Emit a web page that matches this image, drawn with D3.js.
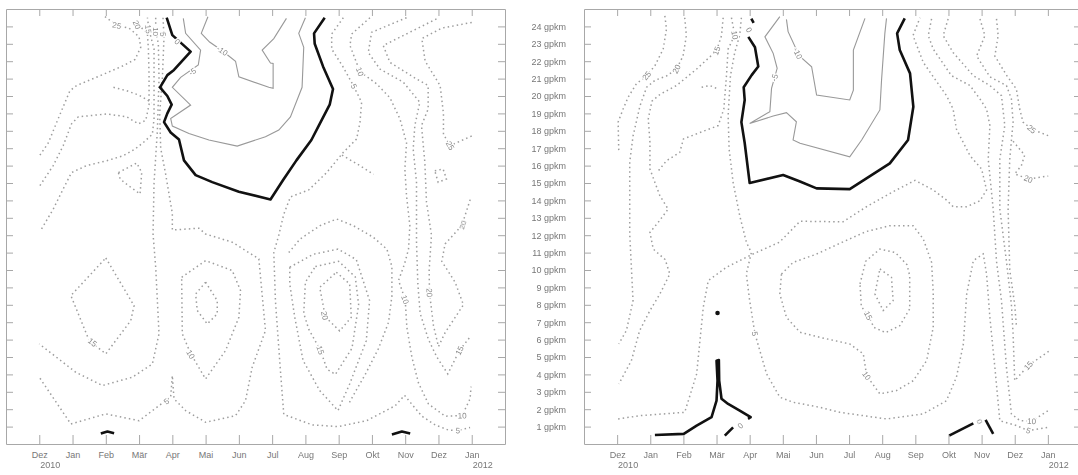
<!DOCTYPE html>
<html>
<head>
<meta charset="utf-8">
<script src="https://cdnjs.cloudflare.com/ajax/libs/d3/7.8.5/d3.min.js"></script>
<style>
  body { margin: 0; background: #fff; }
  svg { display: block; font-family: "Liberation Sans", Arial, sans-serif; }
  .labels { opacity: 0.99; }
</style>
</head>
<body>
<div id="chart"></div>
<script>
// month index: 0 = Dez 2010 ... 13 = Jan 2012, height in gpkm
var monthLabels = ["Dez","Jan","Feb","Mär","Apr","Mai","Jun","Jul","Aug","Sep","Okt","Nov","Dez","Jan"];
var yearLabels = [["2010", 0], ["2012", 13]];
var heightTicks = [1,2,3,4,5,6,7,8,9,10,11,12,13,14,15,16,17,18,19,20,21,22,23,24];

// ---------- left panel ----------
var leftZero = [
  [[3.83,24.5],[4.0,23.5],[4.55,22.55],[4.05,21.5],[3.85,21.2],[3.63,20.5],[3.85,20.0],[3.98,19.5],[3.85,19.0],[3.75,18.5],[3.95,17.9],[4.2,17.5],[4.35,16.3],[4.7,15.45],[5.2,15.05],[6.0,14.5],[6.95,14.05],[7.33,15.17],[7.73,16.3],[8.18,17.47],[8.43,18.4],[8.73,19.5],[8.83,20.4],[8.53,21.7],[8.28,23.0],[8.26,23.6],[8.58,24.5]],
  [[1.85,0.6],[2.05,0.72],[2.25,0.62]],
  [[10.6,0.55],[10.9,0.72],[11.15,0.6]]
];
var leftNeg = [
  [[4.33,24.46],[4.4,23.6],[4.85,22.64],[4.78,21.78],[4.25,21.07],[4.0,20.5],[4.55,19.48],[3.95,18.71],[4.0,18.27],[4.5,17.85],[5.1,17.47],[5.95,17.12],[6.8,17.66],[7.2,18.04],[7.55,18.8],[7.9,20.5],[7.95,22.8],[7.8,23.6],[8.0,24.5]],
  [[5.07,24.55],[4.87,23.6],[5.12,23.1],[5.5,22.6],[5.9,22.0],[6.0,21.1],[6.9,20.5],[7.03,20.44],[7.03,21.87],[6.95,21.9],[6.7,22.64],[7.05,23.3],[7.43,24.46]]
];
var leftPos = [
  [[0.02,16.6],[0.27,17.3],[0.57,18.7],[0.92,20.3],[1.12,20.6],[1.87,21.2],[2.48,21.7],[2.88,22.1],[3.05,22.8],[3.0,23.4],[2.7,23.9],[2.33,24.05],[1.95,24.6]],
  [[0.02,14.85],[0.42,16.0],[0.72,17.15],[0.97,18.4],[1.17,18.8],[2.03,18.97],[2.63,18.8],[2.98,18.4],[3.2,18.6],[3.3,19.5],[3.3,21.2],[3.28,22.7],[3.25,23.6],[3.0,24.05],[2.9,24.5]],
  [[0.07,12.36],[0.42,13.5],[0.72,14.66],[0.97,15.6],[1.42,16.0],[2.03,16.28],[2.53,16.57],[2.88,16.95],[3.13,17.33],[3.4,17.8],[3.45,18.7],[3.45,21.2],[3.45,22.7],[3.3,23.8],[3.25,24.5]],
  [[2.23,20.5],[2.63,20.3],[2.98,20.06],[3.23,19.8],[3.38,19.6]],
  [[2.38,15.6],[2.93,16.15],[3.08,15.6],[3.03,14.37],[2.68,14.85],[2.43,15.23],[2.38,15.6]],
  [[3.5,24.5],[3.5,23.7],[3.58,23.0],[3.6,21.0],[3.55,18.0],[3.45,15.0],[3.42,12.07],[3.5,10.16],[3.6,6.33],[3.4,4.6],[2.8,3.84],[1.9,3.36],[1.1,4.12],[0.0,5.75]],
  [[3.72,24.5],[3.75,23.4],[3.7,21.0],[3.62,19.0],[3.65,17.0],[3.8,15.5],[3.95,13.8],[4.0,13.25],[4.0,12.3],[4.8,12.4],[5.0,12.07],[5.8,11.6],[6.6,10.64],[6.8,6.52],[6.4,4.41],[6.2,2.49],[5.9,1.63],[5.0,1.25],[4.4,1.92],[4.05,2.6],[4.0,3.93],[3.95,2.7],[3.8,2.49],[3.0,1.34],[2.0,1.73],[0.95,1.15],[0.0,3.84]],
  [[2.0,10.69],[2.85,7.95],[2.75,7.09],[2.0,5.18],[1.5,5.94],[0.95,8.53],[2.0,10.69]],
  [[4.28,9.58],[5.0,10.54],[5.8,9.97],[6.05,8.82],[6.0,7.28],[5.6,5.37],[5.0,3.74],[4.55,5.2],[4.3,6.33],[4.28,9.58]],
  [[5.0,9.3],[5.35,8.24],[5.35,7.48],[5.05,6.9],[4.75,7.67],[4.7,8.62],[5.0,9.3]],
  [[9.14,24.5],[8.79,23.56],[8.79,22.7],[9.14,21.65],[9.44,20.6],[9.69,19.64],[9.64,18.49],[9.54,17.53],[9.14,16.76],[8.64,15.6],[8.1,14.6],[7.55,14.2],[7.35,13.2],[7.2,12.0],[7.05,11.0],[7.1,8.2],[7.25,4.2],[7.35,1.7],[8.2,1.1],[9.0,1.0],[9.85,1.35],[10.7,2.2],[10.98,2.8],[11.15,2.4],[11.5,1.6],[11.9,1.1],[12.3,0.8],[12.58,0.77],[12.95,0.95]],
  [[7.53,10.16],[8.23,10.9],[8.98,11.2],[9.53,10.6],[9.93,8.24],[9.83,5.94],[9.33,3.45],[8.98,1.92],[8.43,3.07],[7.93,4.8],[7.68,7.28],[7.53,9.2],[7.53,10.16]],
  [[8.3,10.2],[9.0,10.5],[9.5,9.6],[9.6,8.0],[9.4,5.5],[8.9,4.0],[8.65,4.3],[8.45,5.4],[8.1,6.6],[7.95,7.5],[8.0,9.3],[8.3,10.2]],
  [[8.93,9.87],[9.33,9.2],[9.38,7.28],[9.03,6.5],[8.6,7.3],[8.43,9.0],[8.93,9.87]],
  [[7.5,11.0],[7.84,11.78],[8.44,12.55],[8.94,12.93],[9.44,12.55],[10.04,11.88],[10.45,11.2],[10.6,10.2],[10.6,8.5],[10.5,7.0],[10.2,5.5],[9.8,4.0],[9.5,3.0],[9.3,2.3]],
  [[9.94,24.5],[9.39,23.56],[9.34,22.9],[9.64,21.4],[10.14,20.7],[10.54,19.9],[10.84,18.7],[11.04,17.3],[10.99,15.8],[11.04,14.27],[11.14,12.55],[11.1,11.2],[10.98,10.35],[10.8,9.4],[11.0,8.3],[11.05,6.7],[11.2,5.0],[11.4,3.5],[11.7,2.3],[12.2,1.6],[12.71,1.63],[12.95,2.6],[12.98,3.3]],
  [[11.04,24.5],[9.99,23.66],[9.89,22.5],[10.24,21.55],[10.94,20.8],[11.44,19.64],[11.29,18.3],[11.24,16.95],[11.34,15.04],[11.34,11.6],[11.38,9.2],[11.45,7.5],[11.7,6.0],[11.95,5.0],[12.28,4.03],[12.63,5.37],[12.98,6.23]],
  [[11.94,24.43],[10.34,22.9],[10.54,21.93],[11.34,20.98],[11.69,20.6],[11.69,19.25],[11.49,18.3],[11.59,16.2],[11.64,13.9],[11.79,12.0],[11.72,10.0],[11.73,8.7],[11.85,6.8],[12.0,5.6],[12.2,6.4],[12.75,8.0],[12.5,9.3],[12.1,10.5],[12.2,11.5],[12.7,12.55],[12.98,14.2]],
  [[13.0,24.23],[12.1,23.9],[11.5,23.3],[11.6,22.0],[12.05,20.6],[12.15,19.0],[12.15,17.8],[12.35,17.15],[13.0,17.7]],
  [[11.89,15.7],[12.14,15.8],[12.24,15.23],[11.99,15.04],[11.89,15.7]],
  [[9.1,16.6],[9.55,16.1],[10.05,15.5]]
];
var leftLabels = [
  ["25",2.33,24.05],["20",2.93,24.1],["15",3.28,23.85],["10",3.5,23.7],["5",3.72,23.55],["0",4.15,23.12],
  ["-5",4.6,21.4],["-10",5.5,22.6],["5",9.46,20.56],["10",9.64,21.4],["25",12.35,17.15],["20",12.72,12.6],
  ["15",1.6,5.85],["10",4.55,5.15],["5",3.82,2.45],["20",8.58,7.38],["15",8.45,5.4],["10",11.0,8.3],
  ["20",11.73,8.7],["15",12.63,5.37],["10",12.71,1.63],["5",12.58,0.77]
];
var leftDots = [];

// ---------- right panel ----------
var rightZero = [
  [[4.05,24.45],[4.12,24.2]],
  [[3.96,23.4],[4.16,22.8],[4.26,21.7],[4.06,21.2],[3.82,20.5],[3.85,19.77],[3.75,18.5],[3.85,17.3],[4.0,15.0],[5.01,15.46],[5.5,15.1],[6.02,14.69],[7.02,14.65],[8.23,16.13],[8.78,17.47],[8.94,19.38],[8.84,21.3],[8.53,22.64],[8.45,23.6],[8.68,24.46]],
  [[1.14,0.52],[2.01,0.58],[2.4,1.06],[2.85,1.54],[3.0,2.49],[3.03,3.64],[3.0,4.79],[3.07,4.83],[3.08,3.64],[3.15,2.6],[3.35,2.3],[3.7,1.92],[4.03,1.54],[3.95,1.45]],
  [[3.25,0.48],[3.5,0.96]],
  [[10.02,0.48],[10.75,1.19]],
  [[11.12,1.38],[11.35,0.58]]
];
var rightNeg = [
  [[4.91,24.56],[4.46,23.4],[4.71,22.45],[4.83,21.59],[4.66,20.44],[4.61,19.1],[4.0,18.42],[4.71,18.85],[5.11,19.04],[5.41,18.52],[5.31,17.47],[5.52,17.28],[7.02,16.5],[7.38,17.47],[7.93,19.2],[7.98,20.9],[8.08,23.6],[8.13,24.46]],
  [[5.11,24.4],[5.16,23.7],[5.5,22.3],[5.87,21.68],[6.02,20.05],[7.02,19.77],[7.13,20.34],[7.13,22.64],[7.48,24.46]]
];
var rightPos = [
  [[1.44,24.6],[1.49,23.85],[1.39,22.7],[1.14,21.74],[0.89,21.17],[0.58,20.7],[0.33,19.92],[0.18,19.25],[0.03,18.5],[0.05,16.76]],
  [[2.04,24.5],[2.09,23.47],[1.99,22.3],[1.79,21.55],[1.49,21.15],[1.14,20.9],[0.89,20.5],[0.69,19.44],[0.48,17.7],[0.38,16.2],[0.38,13.5],[0.38,12.07],[0.43,10.16],[0.48,8.24],[0.28,6.52],[0.05,5.75]],
  [[3.2,24.5],[3.15,23.47],[3.0,22.6],[2.4,21.55],[1.79,20.6],[1.3,20.1],[1.05,19.7],[0.94,18.68],[0.99,17.34],[0.99,15.8],[1.29,14.27],[1.54,13.5],[1.24,12.74],[0.99,12.16],[1.09,11.2],[1.45,10.6],[1.59,9.77],[1.29,8.62],[0.99,7.67],[0.68,6.52],[0.43,4.79],[0.05,3.45]],
  [[3.45,24.5],[3.55,23.5],[3.35,22.7],[3.3,21.17],[3.22,19.25],[3.05,18.3],[2.5,17.9],[2.0,17.53],[1.89,16.76],[1.49,16.28],[1.2,15.6]],
  [[2.55,20.5],[2.8,20.6],[3.05,20.4]],
  [[3.75,24.5],[3.7,23.5],[3.55,22.5],[3.42,21.17],[3.35,18.87],[3.38,16.95],[3.5,15.04],[3.7,13.12],[3.9,11.6],[4.05,11.0],[3.9,9.77],[4.0,8.24],[4.16,6.33],[4.51,4.03],[4.91,2.69],[5.31,2.4],[6.12,2.11],[6.72,1.82],[8.13,1.44],[9.24,1.73],[9.94,2.49],[10.24,3.84],[10.45,5.75],[10.55,8.62],[10.75,10.54],[11.05,10.92],[11.15,9.77],[11.25,7.28],[11.4,4.41],[11.55,1.34],[12.05,1.06],[12.41,0.77],[13.01,0.96]],
  [[0.03,1.44],[0.69,1.63],[2.04,1.82],[2.4,4.03],[2.6,7.86],[2.75,9.39],[3.3,10.16],[4.1,10.92],[4.9,11.6],[5.52,12.8],[6.82,12.77],[7.53,13.64],[8.33,14.5],[8.99,15.15],[9.54,14.6],[9.94,14.02],[10.14,13.64],[10.55,13.64],[10.95,13.98],[11.15,14.6],[11.0,15.8],[10.65,16.57],[10.24,18.1],[10.14,19.25],[9.94,20.02],[9.24,21.93],[8.93,23.47],[9.14,24.5]],
  [[4.96,9.77],[5.31,10.44],[6.0,10.9],[6.8,11.6],[7.5,12.2],[8.23,12.55],[8.93,12.55],[9.24,11.78],[9.49,10.44],[9.54,8.72],[9.54,6.7],[9.34,4.79],[8.94,3.64],[8.43,3.07],[7.93,2.88],[7.53,3.93],[7.43,5.18],[7.02,5.75],[6.12,6.13],[5.52,6.42],[5.11,7.28],[4.91,8.62],[4.96,9.77]],
  [[7.33,9.2],[7.5,10.5],[7.93,11.2],[8.4,11.0],[8.75,10.3],[8.83,9.67],[8.83,7.76],[8.53,6.8],[8.1,6.4],[7.75,6.7],[7.58,7.38],[7.37,7.9],[7.33,9.2]],
  [[7.93,10.06],[8.28,9.58],[8.33,8.24],[8.03,7.67],[7.78,8.62],[7.93,10.06]],
  [[9.49,24.43],[9.39,23.47],[9.54,22.7],[10.09,21.17],[10.65,20.6],[10.95,19.83],[11.15,19.25],[11.25,18.3],[11.2,16.38],[11.35,13.5],[11.45,10.5],[11.6,8.24],[11.75,4.41],[11.9,1.73],[12.16,1.34],[12.51,1.31],[13.01,1.92]],
  [[9.99,24.43],[9.84,23.47],[10.14,22.5],[10.75,21.17],[11.25,20.6],[11.6,20.02],[11.7,18.3],[11.55,16.38],[11.55,13.5],[11.75,10.5],[11.9,8.0],[11.95,6.33],[12.0,3.64],[12.41,4.51],[13.06,5.37]],
  [[10.95,24.43],[11.1,23.47],[10.85,22.3],[11.25,21.1],[11.75,20.6],[11.9,19.83],[11.95,18.5],[11.85,16.38],[11.8,13.5],[11.85,10.0],[12.0,8.0],[12.05,6.8]],
  [[11.95,17.4],[12.3,16.6],[12.2,16.0],[12.0,15.52],[12.41,15.23],[13.01,15.4]],
  [[11.45,24.43],[11.5,23.47],[11.4,22.3],[11.75,21.2],[12.05,20.4],[12.15,19.25],[12.25,18.5],[12.51,18.1],[13.01,17.72]]
];
var rightLabels = [
  ["25",0.89,21.17],["20",1.79,21.55],["15",3.0,22.6],["10",3.55,23.5],["0",3.98,23.8],
  ["-5",4.75,21.05],["-10",5.45,22.45],["5",4.16,6.33],["0",3.72,1.05],["15",7.58,7.38],
  ["10",7.53,3.93],["0",10.95,1.3],["25",12.51,18.1],["20",12.41,15.23],["15",12.41,4.51],
  ["10",12.51,1.31],["5",12.41,0.77]
];
var rightDots = [[3.03,7.53]];

var svg = d3.select("#chart").append("svg")
  .attr("width", 1078)
  .attr("height", 475);

var y = d3.scaleLinear().domain([0, 25]).range([444, 9]);

// angle of the nearest line segment, for rotating a contour label
function labelAngle(p, lines, x) {
  var best = 0, bd = Infinity;
  var px = x(p[1]), py = y(p[2]);
  lines.forEach(function(l) {
    for (var i = 0; i < l.length - 1; i++) {
      var ax = x(l[i][0]), ay = y(l[i][1]);
      var dx = x(l[i+1][0]) - ax, dy = y(l[i+1][1]) - ay;
      var len = dx * dx + dy * dy || 1;
      var t = Math.max(0, Math.min(1, ((px - ax) * dx + (py - ay) * dy) / len));
      var cx = ax + t * dx - px, cy = ay + t * dy - py;
      var d = cx * cx + cy * cy;
      if (d < bd) { bd = d; best = Math.atan2(dy, dx) * 180 / Math.PI; }
    }
  });
  if (best > 90) best -= 180;
  if (best < -90) best += 180;
  return best;
}

function drawPanel(x0, x1, zero, neg, pos, labels, dots, showHeights) {
  var x = d3.scaleLinear().domain([-1, 14]).range([x0, x1]);
  var g = svg.append("g");
  var line = d3.line().x(function(d) { return x(d[0]); }).y(function(d) { return y(d[1]); });

  g.selectAll(".pos").data(pos).enter().append("path")
    .attr("d", line)
    .attr("fill", "none")
    .attr("stroke", "#9d9d9d")
    .attr("stroke-width", 1.5)
    .attr("stroke-dasharray", "1.5,3.1");

  g.selectAll(".neg").data(neg).enter().append("path")
    .attr("d", line)
    .attr("fill", "none")
    .attr("stroke", "#999")
    .attr("stroke-width", 1.1);

  g.selectAll(".zero").data(zero).enter().append("path")
    .attr("d", line)
    .attr("fill", "none")
    .attr("stroke", "#111")
    .attr("stroke-width", 2.6)
    .attr("stroke-linejoin", "round");

  g.selectAll(".dot").data(dots).enter().append("circle")
    .attr("cx", function(d) { return x(d[0]); })
    .attr("cy", function(d) { return y(d[1]); })
    .attr("r", 2.3)
    .attr("fill", "#111");

  var all = pos.concat(neg, zero);
  g.append("g").attr("class", "labels")
    .selectAll("text").data(labels).enter().append("text")
    .attr("transform", function(d) {
      return "translate(" + x(d[1]) + "," + y(d[2]) + ") rotate(" + labelAngle(d, all, x) + ")";
    })
    .attr("text-anchor", "middle")
    .attr("dy", "0.35em")
    .attr("font-size", 8)
    .attr("fill", "#888")
    .attr("stroke", "#fff")
    .attr("stroke-width", 2.5)
    .attr("paint-order", "stroke")
    .text(function(d) { return d[0]; });

  // frame and inward ticks
  var months = d3.range(0, 14);
  var bottom = g.append("g").attr("transform", "translate(0,444)")
    .call(d3.axisBottom(x).tickValues(months).tickSizeInner(-9).tickSizeOuter(0).tickPadding(8)
      .tickFormat(function(d) { return monthLabels[d]; }));
  var top = g.append("g").attr("transform", "translate(0,9)")
    .call(d3.axisTop(x).tickValues(months).tickSizeInner(-7).tickSizeOuter(0).tickFormat(""));
  var left = g.append("g").attr("transform", "translate(" + x0 + ",0)")
    .call(d3.axisLeft(y).tickValues(heightTicks).tickSizeInner(-7).tickSizeOuter(0).tickPadding(18)
      .tickFormat(function(d) { return showHeights ? d + " gpkm" : ""; }));
  var right = g.append("g").attr("transform", "translate(" + x1 + ",0)")
    .call(d3.axisRight(y).tickValues(heightTicks).tickSizeInner(-7).tickSizeOuter(0).tickFormat(""));

  [bottom, top, left, right].forEach(function(a) {
    a.select(".domain").attr("stroke", "#a8a8a8");
    a.selectAll(".tick line").attr("stroke", "#a8a8a8");
    a.selectAll("text").attr("fill", "#777").attr("font-size", 9)
      .style("font-family", "'Liberation Sans', Arial, sans-serif");
  });

  g.selectAll(".year").data(yearLabels).enter().append("text")
    .attr("x", function(d) { return x(d[1]) + 11; })
    .attr("y", 468)
    .attr("text-anchor", "middle")
    .attr("font-size", 9)
    .attr("fill", "#777")
    .text(function(d) { return d[0]; });
}

drawPanel(6, 505, leftZero, leftNeg, leftPos, leftLabels, leftDots, false);
drawPanel(584, 1081, rightZero, rightNeg, rightPos, rightLabels, rightDots, true);
</script>
</body>
</html>
